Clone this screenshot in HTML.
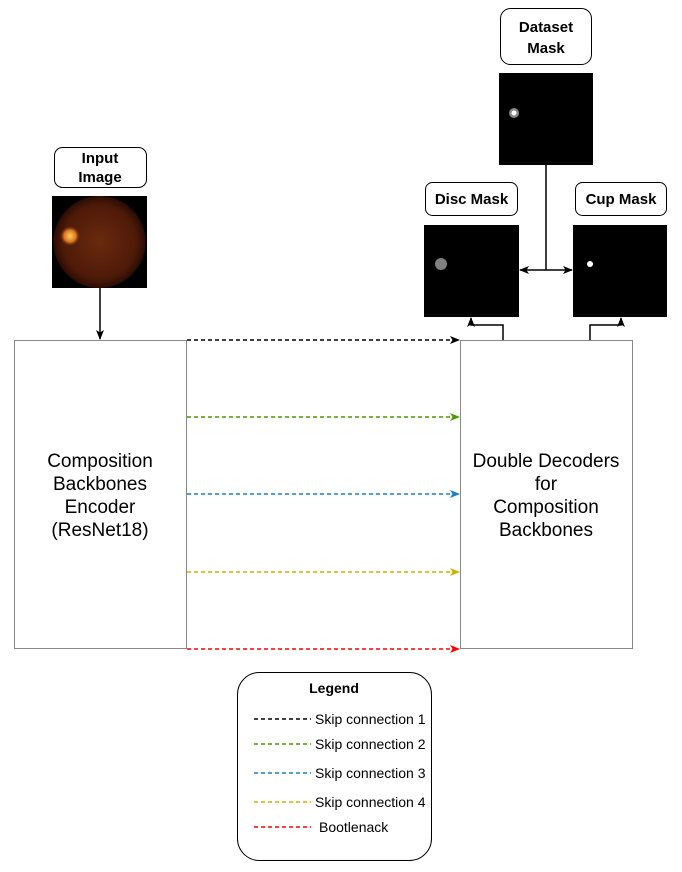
<!DOCTYPE html>
<html><head><style>body{margin:0;background:#fff}svg{display:block}</style></head><body>
<svg width="682" height="872" xmlns="http://www.w3.org/2000/svg" font-family="Liberation Sans, Arial, sans-serif">
<defs>
<marker id="a" markerWidth="10" markerHeight="10" refX="9" refY="5" orient="auto-start-reverse" markerUnits="userSpaceOnUse"><path d="M0,1 L10,5 L0,9 L2.5,5z" fill="#000"/></marker>
<marker id="ag" markerWidth="10" markerHeight="10" refX="9" refY="5" orient="auto" markerUnits="userSpaceOnUse"><path d="M0,1 L10,5 L0,9 L2.5,5z" fill="#4d9900"/></marker>
<marker id="ab" markerWidth="10" markerHeight="10" refX="9" refY="5" orient="auto" markerUnits="userSpaceOnUse"><path d="M0,1 L10,5 L0,9 L2.5,5z" fill="#1a7fc4"/></marker>
<marker id="ay" markerWidth="10" markerHeight="10" refX="9" refY="5" orient="auto" markerUnits="userSpaceOnUse"><path d="M0,1 L10,5 L0,9 L2.5,5z" fill="#c7b300"/></marker>
<marker id="ar" markerWidth="10" markerHeight="10" refX="9" refY="5" orient="auto" markerUnits="userSpaceOnUse"><path d="M0,1 L10,5 L0,9 L2.5,5z" fill="#ff0000"/></marker>
<radialGradient id="eye" cx="0.5" cy="0.5" r="0.5"><stop offset="0" stop-color="#6a2a0e"/><stop offset="0.8" stop-color="#4e1a08"/><stop offset="1" stop-color="#2a0c04"/></radialGradient>
<radialGradient id="disc" cx="0.5" cy="0.5" r="0.5"><stop offset="0" stop-color="#ffd060"/><stop offset="0.6" stop-color="#d77820"/><stop offset="1" stop-color="#7a2c0c" stop-opacity="0"/></radialGradient>
</defs>
<rect x="54.5" y="147.5" width="92" height="40" rx="8" fill="#fff" stroke="#000"/>
<text x="100" y="163" font-size="15" font-weight="bold" text-anchor="middle">Input</text>
<text x="100" y="182" font-size="15" font-weight="bold" text-anchor="middle">Image</text>
<rect x="52" y="196" width="95" height="92" fill="#000"/>
<circle cx="99.5" cy="242" r="46" fill="url(#eye)"/>
<circle cx="70" cy="236" r="10" fill="url(#disc)"/>
<line x1="100" y1="288" x2="100" y2="339" stroke="#000" stroke-width="1.5" marker-end="url(#a)"/>
<rect x="500.5" y="8.5" width="91" height="56" rx="10" fill="#fff" stroke="#000"/>
<text x="546" y="32" font-size="15" font-weight="bold" text-anchor="middle">Dataset</text>
<text x="546" y="53" font-size="15" font-weight="bold" text-anchor="middle">Mask</text>
<rect x="499" y="73" width="94" height="92" fill="#000"/>
<circle cx="514" cy="113" r="5" fill="#888"/><circle cx="514" cy="113" r="2.5" fill="#fff"/>
<line x1="546" y1="165" x2="546" y2="270" stroke="#000" stroke-width="1.5"/>
<line x1="520" y1="270" x2="572" y2="270" stroke="#000" stroke-width="1.5" marker-start="url(#a)" marker-end="url(#a)"/>
<rect x="425.5" y="182.5" width="92" height="33" rx="7" fill="#fff" stroke="#000"/>
<text x="471.5" y="204" font-size="15" font-weight="bold" text-anchor="middle">Disc Mask</text>
<rect x="424" y="225" width="95" height="92" fill="#000"/>
<circle cx="441" cy="264" r="6" fill="#808080"/>
<rect x="575.5" y="182.5" width="91" height="33" rx="7" fill="#fff" stroke="#000"/>
<text x="621" y="204" font-size="15" font-weight="bold" text-anchor="middle">Cup Mask</text>
<rect x="573" y="225" width="94" height="92" fill="#000"/>
<circle cx="590" cy="264" r="3" fill="#fff"/>
<polyline points="503,340 503,325 471,325 471,318" fill="none" stroke="#000" stroke-width="1.5" marker-end="url(#a)"/>
<polyline points="590,340 590,325 621,325 621,318" fill="none" stroke="#000" stroke-width="1.5" marker-end="url(#a)"/>
<rect x="14.5" y="340.5" width="172" height="308" fill="#fff" stroke="#888"/>
<text font-size="19" text-anchor="middle"><tspan x="100" y="467">Composition</tspan><tspan x="100" y="490">Backbones</tspan><tspan x="100" y="513">Encoder</tspan><tspan x="100" y="536">(ResNet18)</tspan></text>
<rect x="460.5" y="340.5" width="172" height="308" fill="#fff" stroke="#888"/>
<text font-size="19" text-anchor="middle"><tspan x="546" y="467">Double Decoders</tspan><tspan x="546" y="490">for</tspan><tspan x="546" y="513">Composition</tspan><tspan x="546" y="536">Backbones</tspan></text>
<g stroke-width="1.5" stroke-dasharray="4,3" fill="none">
<line x1="187" y1="340" x2="459" y2="340" stroke="#000" marker-end="url(#a)"/>
<line x1="187" y1="417" x2="459" y2="417" stroke="#4d9900" marker-end="url(#ag)"/>
<line x1="187" y1="494" x2="459" y2="494" stroke="#1a7fc4" marker-end="url(#ab)"/>
<line x1="187" y1="572" x2="459" y2="572" stroke="#c7b300" marker-end="url(#ay)"/>
<line x1="187" y1="649" x2="459" y2="649" stroke="#ff0000" marker-end="url(#ar)"/>
</g>
<rect x="237.5" y="672.5" width="194" height="188" rx="22" fill="#fff" stroke="#000"/>
<text x="334" y="693" font-size="14" font-weight="bold" text-anchor="middle">Legend</text>
<g stroke-width="1.5" stroke-dasharray="4,3">
<line x1="254" y1="719" x2="311" y2="719" stroke="#000"/>
<line x1="254" y1="744" x2="311" y2="744" stroke="#4d9900"/>
<line x1="254" y1="773" x2="311" y2="773" stroke="#1a7fc4"/>
<line x1="254" y1="802" x2="311" y2="802" stroke="#c7b300"/>
<line x1="254" y1="827" x2="311" y2="827" stroke="#ff0000"/>
</g>
<g font-size="14">
<text x="315" y="724">Skip connection 1</text>
<text x="315" y="749">Skip connection 2</text>
<text x="315" y="778">Skip connection 3</text>
<text x="315" y="807">Skip connection 4</text>
<text x="319" y="832">Bootlenack</text>
</g>
</svg>
</body></html>
